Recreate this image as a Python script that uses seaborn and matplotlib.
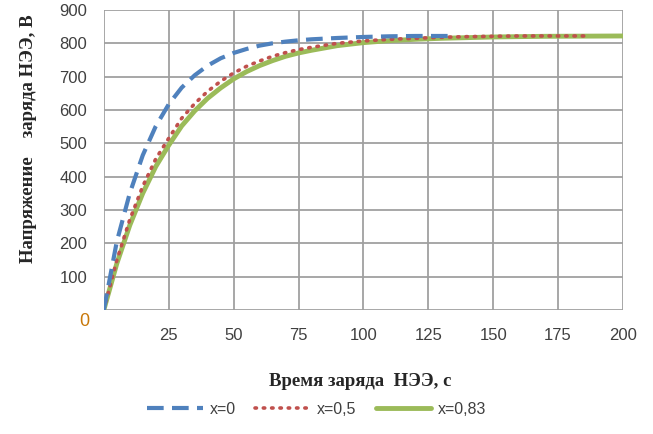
import matplotlib
matplotlib.use("Agg")
import matplotlib.pyplot as plt
import seaborn as sns
import pandas as pd

# time points (s)
t_x0 = [0, 5, 10, 15, 20, 25, 30, 35, 40, 45, 50, 55, 60, 65, 70, 75, 80, 90, 100, 110, 120, 134]
v_x0 = [0, 205, 350, 464, 551, 617, 667, 704, 733, 755, 771, 783, 793, 800, 805, 809, 812, 816, 819, 821, 822, 822]

t_x05 = [0, 5, 10, 15, 20, 25, 30, 35, 40, 45, 50, 55, 60, 65, 70, 75, 80, 90, 100, 110, 120, 130, 140, 150, 160, 187]
v_x05 = [0, 149, 271, 371, 453, 515, 575, 619, 656, 686, 711, 731, 747, 761, 772, 781, 788, 800, 807, 812, 815, 818, 820, 821, 822, 822]

t_x083 = [0, 5, 10, 15, 20, 25, 30, 35, 40, 45, 50, 55, 60, 65, 70, 75, 80, 90, 100, 110, 120, 130, 140, 150, 170, 200]
v_x083 = [0, 139, 254, 350, 430, 494, 552, 597, 635, 666, 693, 715, 733, 748, 761, 771, 779, 793, 802, 808, 812, 815, 817, 819, 821, 822]

labels = ["x=0", "x=0,5", "x=0,83"]
x_ticks = [25, 50, 75, 100, 125, 150, 175, 200]
y_ticks = [100, 200, 300, 400, 500, 600, 700, 800, 900]

sns.set_style("white")
plt.rcParams['font.family'] = ['Liberation Sans', 'DejaVu Sans']

fig = plt.figure(figsize=(6.53, 4.34), dpi=100)
ax = fig.add_axes([0.159, 0.286, 0.795, 0.691])

grid_c = "#a0a0a0"
for yv in [0] + y_ticks:
    ax.axhline(yv, color=grid_c, lw=1.3, zorder=0)
for xv in [0] + x_ticks:
    ax.axvline(xv, color=grid_c, lw=1.3, zorder=0)

d0 = pd.DataFrame({"t": t_x0, "v": v_x0})
d1 = pd.DataFrame({"t": t_x05, "v": v_x05})
d2 = pd.DataFrame({"t": t_x083, "v": v_x083})

sns.lineplot(data=d2, x="t", y="v", ax=ax, color="#9BBB59", lw=3.5, label=labels[2], zorder=2)
sns.lineplot(data=d1, x="t", y="v", ax=ax, color="#C0504D", lw=2.6, label=labels[1], zorder=3)
sns.lineplot(data=d0, x="t", y="v", ax=ax, color="#4F81BD", lw=3.0, label=labels[0], zorder=4)
ax.lines[-2].set_linestyle((0, (0.4, 1.9)))
ax.lines[-2].set_dash_capstyle("round")
ax.lines[-1].set_linestyle((0, (4, 2)))

ax.set_xlim(0, 200)
ax.set_ylim(0, 900)
ax.set_xticks(x_ticks)
ax.set_yticks(y_ticks)
ax.tick_params(axis="x", length=5, width=1.2, color=grid_c, labelsize=12, pad=8, colors="#404040")
ax.tick_params(axis="y", length=0, labelsize=12, pad=12, colors="#404040")
ax.tick_params(axis="x", color=grid_c)
for s in ax.spines.values():
    s.set_visible(False)
ax.text(-0.037, -0.04, "0", transform=ax.transAxes, fontsize=13, color="#c8780a",
        ha="center", va="center")

ax.set_xlabel("")
ax.set_ylabel("")
fig.text(0.551, 0.12, "Время заряда  НЭЭ, с", ha="center", va="center",
         fontsize=13.5, fontweight="bold", family=["Liberation Serif", "DejaVu Serif"])
fig.text(0.043, 0.68, "Напряжение    заряда НЭЭ, В", ha="center", va="center", rotation=90,
         fontsize=13.5, fontweight="bold", family=["Liberation Serif", "DejaVu Serif"])

h, l = ax.get_legend_handles_labels()
order = [2, 1, 0]
ax.legend([h[i] for i in order], [l[i] for i in order], loc="center",
          bbox_to_anchor=(0.485, 0.057), bbox_transform=fig.transFigure, ncol=3,
          frameon=False, fontsize=11.5, handlelength=3.5, columnspacing=1.2, handletextpad=0.4,
          labelcolor="#404040")

fig.savefig("out.png", dpi=100)
